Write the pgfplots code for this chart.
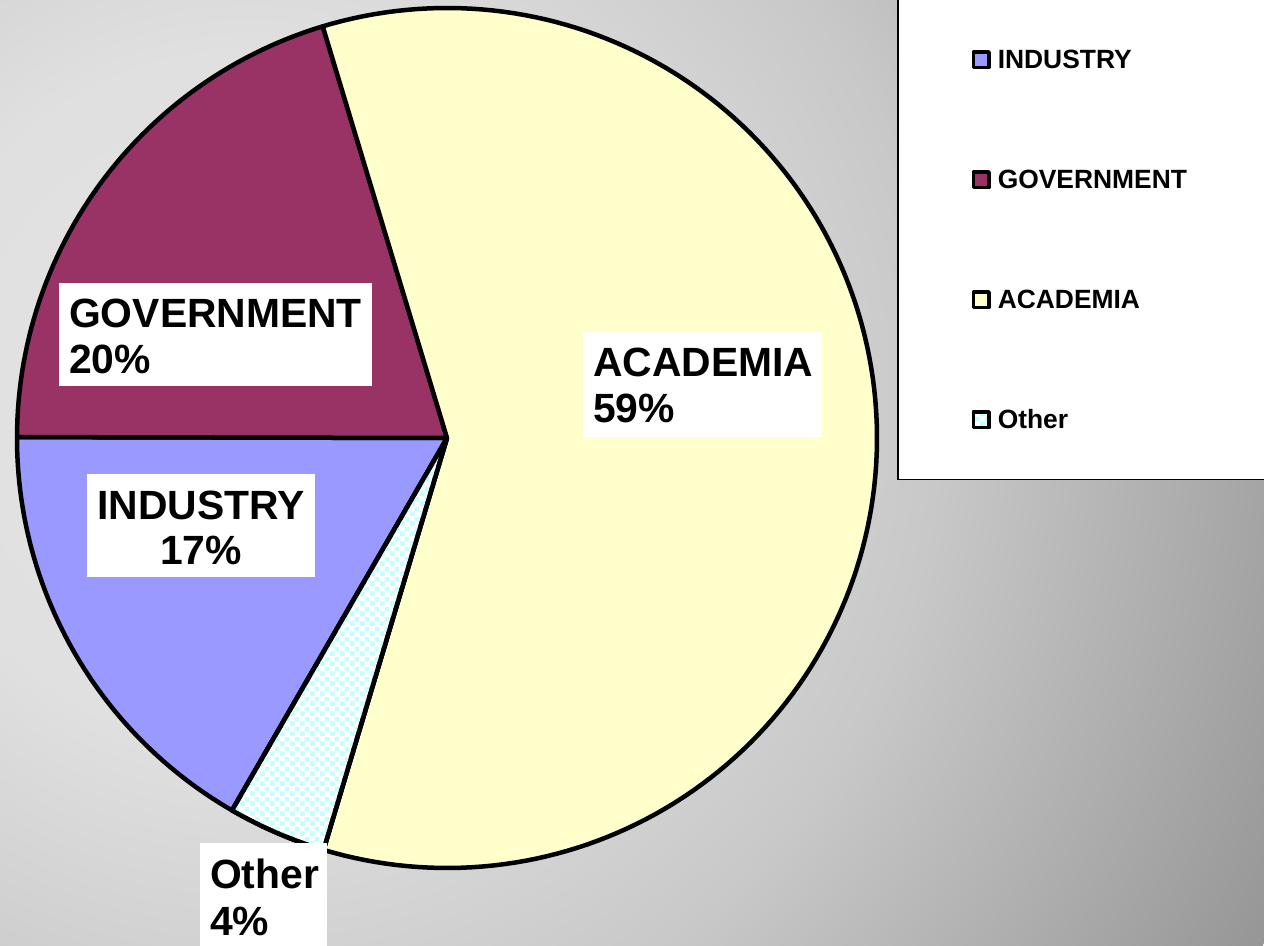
\documentclass[border=0pt]{standalone}
\usepackage{pgfplots}
\pgfplotsset{compat=1.18}
\usepackage{pgfplotstable}
\usetikzlibrary{patterns}
\usepackage{fontspec}
\setmainfont{Liberation Sans}

\definecolor{ind}{HTML}{9999FF}
\definecolor{gov}{HTML}{993366}
\definecolor{aca}{HTML}{FFFFCC}
\definecolor{oth}{HTML}{C4FFFF}
\definecolor{bg0}{HTML}{E3E3E3}
\definecolor{bg1}{HTML}{E0E0E0}
\definecolor{bg2}{HTML}{C8C8C8}
\definecolor{bg3}{HTML}{969696}

\pgfdeclareradialshading{bgshade}{\pgfpoint{0bp}{0bp}}{color(0bp)=(bg0); color(7.5bp)=(bg1); color(15bp)=(bg2); color(25bp)=(bg3); color(50bp)=(bg3)}

\pgfdeclarepatternformonly{check}{\pgfqpoint{0bp}{0bp}}{\pgfqpoint{10bp}{10bp}}{\pgfqpoint{10bp}{10bp}}{%
  \pgfpathrectangle{\pgfqpoint{0bp}{0bp}}{\pgfqpoint{5bp}{5bp}}%
  \pgfpathrectangle{\pgfqpoint{5bp}{5bp}}{\pgfqpoint{5bp}{5bp}}%
  \pgfusepath{fill}}

\newcommand\lab{\fontsize{41}{46}\selectfont\bfseries}

\pgfplotstableread{
label value
INDUSTRY 16.7
GOVERNMENT 20.3
ACADEMIA 59.3
Other 3.7
}\piedata

\begin{document}
\begin{tikzpicture}
\pgfplotstablegetelem{0}{value}\of\piedata \let\vA\pgfplotsretval
\pgfplotstablegetelem{1}{value}\of\piedata \let\vB\pgfplotsretval
\pgfplotstablegetelem{2}{value}\of\piedata \let\vC\pgfplotsretval
\pgfplotstablegetelem{3}{value}\of\piedata \let\vD\pgfplotsretval
\pgfmathsetmacro\aA{240}
\pgfmathsetmacro\aB{\aA-3.6*\vA}
\pgfmathsetmacro\aC{\aB-3.6*\vB}
\pgfmathsetmacro\aD{\aC-3.6*\vC}
\pgfmathsetmacro\aE{\aD-3.6*\vD}

\begin{scope}
\clip (0,0) rectangle (1264bp,946bp);
\shade[shading=bgshade] (250bp,546bp) circle (1150bp);
\end{scope}

\begin{axis}[
  at={(0,0)}, anchor=south west,
  width=1264bp, height=946bp, scale only axis,
  xmin=0, xmax=1264, ymin=0, ymax=946,
  hide axis, clip=false,
  legend image code/.code={\draw[#1, draw=black, line width=3.5bp] (1.75bp,-7.75bp) rectangle (17.25bp,7.75bp);},
  legend cell align=left,
  legend style={at={(axis cs:897,947)}, anchor=north west, draw=black, line width=1.5bp, fill=white,
    inner xsep=74bp, inner ysep=0bp, row sep=0bp,
    font=\fontsize{26.5}{30}\selectfont\bfseries,
    nodes={text height=69bp, text depth=51bp, inner xsep=7bp, inner ysep=0bp}},
]
\addplot[fill=ind, draw=black, line width=4.5bp, line join=round, domain=\aB:\aA, samples=60]
  ({447+430*cos(x)},{508+430*sin(x)}) -- (447,508) -- cycle;
\addlegendentry{INDUSTRY}
\addplot[fill=gov, draw=black, line width=4.5bp, line join=round, domain=\aC:\aB, samples=60]
  ({447+430*cos(x)},{508+430*sin(x)}) -- (447,508) -- cycle;
\addlegendentry{GOVERNMENT}
\addplot[fill=aca, draw=black, line width=4.5bp, line join=round, domain=\aD:\aC, samples=150]
  ({447+430*cos(x)},{508+430*sin(x)}) -- (447,508) -- cycle;
\addlegendentry{ACADEMIA}
\addplot[fill=white, postaction={pattern=check, pattern color=oth}, draw=black, line width=4.5bp, line join=round, domain=\aE:\aD, samples=20]
  ({447+430*cos(x)},{508+430*sin(x)}) -- (447,508) -- cycle;
\addlegendentry{Other}

% data labels
\fill[white] (59,663) rectangle (372,560);
\node[anchor=base west, inner sep=0pt, font=\lab] at (69,618) {GOVERNMENT};
\node[anchor=base west, inner sep=0pt, font=\lab] at (69,572) {20\%};

\fill[white] (583,614) rectangle (822,509);
\node[anchor=base west, inner sep=0pt, font=\lab] at (593,569) {ACADEMIA};
\node[anchor=base west, inner sep=0pt, font=\lab] at (593,523) {59\%};

\fill[white] (87,472) rectangle (315,369);
\node[anchor=base, inner sep=0pt, font=\lab] at (201,426) {INDUSTRY};
\node[anchor=base, inner sep=0pt, font=\lab] at (201,381) {17\%};

\fill[white] (200,103) rectangle (327,-5);
\node[anchor=base west, inner sep=0pt, font=\lab] at (210,57) {Other};
\node[anchor=base west, inner sep=0pt, font=\lab] at (210,11) {4\%};
\end{axis}
\pgfresetboundingbox
\useasboundingbox (0,0) rectangle (1264bp,946bp);
\end{tikzpicture}
\end{document}
